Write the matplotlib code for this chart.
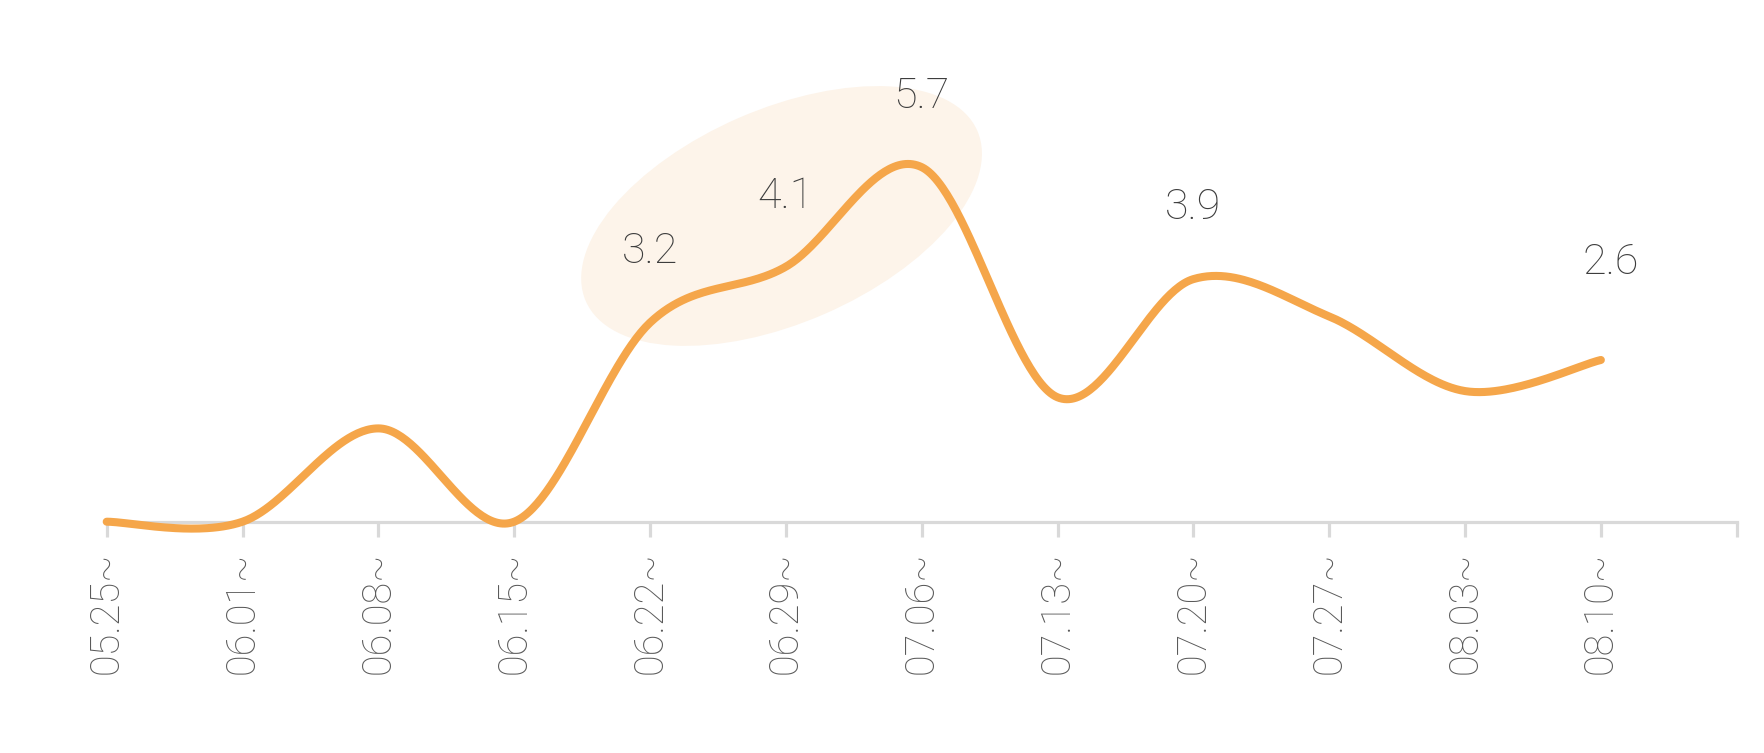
import matplotlib
matplotlib.use("Agg")
import matplotlib.pyplot as plt
from matplotlib.patches import Ellipse
from matplotlib.transforms import ScaledTranslation
import numpy as np

# weekly values (week start dates)
weeks = ["05.25~", "06.01~", "06.08~", "06.15~", "06.22~", "06.29~",
         "07.06~", "07.13~", "07.20~", "07.27~", "08.03~", "08.10~"]
values = [0, 0, 1.5, 0, 3.2, 4.1, 5.7, 2.0, 3.9, 3.3, 2.1, 2.6]

# weeks that get a value label, and the week the highlight sits on
labelled = ["06.22~", "06.29~", "07.06~", "07.20~", "08.10~"]
highlight_week = "06.29~"

LINE = "#F5A64A"
BLOB = "#FDF4EA"
AXIS = "#D9D9D9"
TICK_TXT = "#595959"
VAL_TXT = "#3D3D3D"

plt.rcParams["font.family"] = ["Roboto", "DejaVu Sans"]

W, H = 1765, 753
fig = plt.figure(figsize=(W / 100, H / 100), dpi=100)
ax_l, ax_r, ax_b, ax_t = 106.7, 1736.7, 521.7, 148.5
ax = fig.add_axes([ax_l / W, (H - ax_b) / H, (ax_r - ax_l) / W, (ax_b - ax_t) / H])
n_slots = len(weeks)
ymax = 6
ax.set_xlim(0, n_slots)
ax.set_ylim(0, ymax)

# px per data unit, so the spline is built in screen space like the original
sx = (ax_r - ax_l) / n_slots
sy = (ax_b - ax_t) / ymax


def catmull_rom(xs, ys, steps=60):
    P = np.column_stack([np.asarray(xs, float) * sx, np.asarray(ys, float) * sy])
    Q = np.vstack([P[:1], P, P[-1:]])  # repeat the end points
    t = np.linspace(0, 1, steps)[:, None]
    out = [P[:1]]
    for i in range(1, len(Q) - 2):
        p0, p3 = Q[i], Q[i + 1]
        c1 = p0 + (Q[i + 1] - Q[i - 1]) / 6
        c2 = p3 - (Q[i + 2] - Q[i]) / 6
        seg = ((1 - t) ** 3 * p0 + 3 * (1 - t) ** 2 * t * c1
               + 3 * (1 - t) * t ** 2 * c2 + t ** 3 * p3)
        out.append(seg[1:])
    C = np.vstack(out)
    return C[:, 0] / sx, C[:, 1] / sy


x = np.arange(len(values))

# soft highlight blob behind the rising part
hi = weeks.index(highlight_week)
blob_tr = fig.dpi_scale_trans + ScaledTranslation(hi, values[hi], ax.transData)
ax.add_patch(Ellipse((-0.043, 0.507), 4.27, 2.14, angle=23.5, transform=blob_tr,
                     facecolor=BLOB, edgecolor="none", zorder=1, clip_on=False))

cx, cy = catmull_rom(x, values)
ax.plot(cx, cy, color=LINE, lw=5.8, solid_capstyle="round", solid_joinstyle="round",
        zorder=3, clip_on=False)

# value labels
offsets = [(0, 43.2), (0, 42), (0, 42.7), (0, 43.6), (7.2, 62)]
for w, (dx, dy) in zip(labelled, offsets):
    i = weeks.index(w)
    ax.annotate(f"{values[i]:.1f}", (i, values[i]), xytext=(dx, dy),
                textcoords="offset points", ha="center", va="baseline",
                fontsize=31, fontweight="light", color=VAL_TXT, zorder=4)

for s in ["top", "left", "right"]:
    ax.spines[s].set_visible(False)
ax.spines["bottom"].set_color(AXIS)
ax.spines["bottom"].set_linewidth(2.3)
ax.spines["bottom"].set_zorder(2)
ax.yaxis.set_visible(False)
ax.set_xticks(np.arange(n_slots + 1))
ax.set_xticklabels(weeks + [""], rotation=90, fontsize=28.5, fontweight="light",
                   color=TICK_TXT)
ax.tick_params(axis="x", length=10.5, width=2.3, color=AXIS, pad=11)

fig.savefig("out.png", dpi=100)
